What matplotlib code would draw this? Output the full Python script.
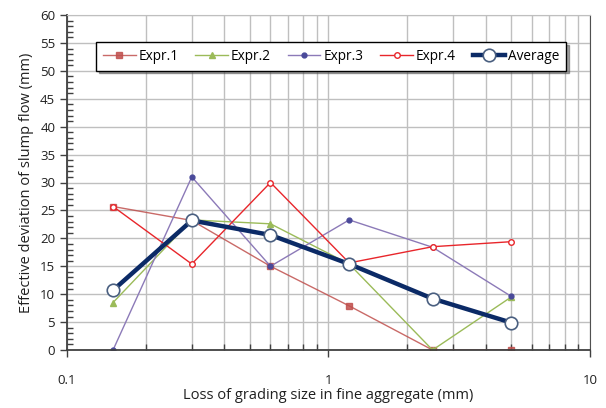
import matplotlib
matplotlib.use('Agg')
import matplotlib.pyplot as plt
from matplotlib.ticker import LogLocator, MultipleLocator, FixedFormatter, FixedLocator

plt.rcParams['font.family'] = ['Open Sans', 'DejaVu Sans']

sizes = [0.15, 0.3, 0.6, 1.2, 2.5, 5]
expr1 = [25.7, 23.2, 15.0, 7.9, 0, 0]
expr2 = [8.5, 23.3, 22.6, 15.4, 0, 9.5]
expr3 = [0, 31.0, 15.0, 23.3, 18.4, 9.6]
expr4 = [25.7, 15.4, 30.0, 15.6, 18.5, 19.4]
average = [10.7, 23.2, 20.6, 15.4, 9.2, 4.9]

x_ticks = [0.1, 1, 10]
x_ticklabels = ['0.1', '1', '10']

fig = plt.figure(figsize=(6.06, 4.08), dpi=100)
ax = fig.add_axes([67 / 606, 1 - 350 / 408, 523 / 606, 335 / 408])

grid_col = '#BFBFBF'
ax.plot(sizes, expr1, color='#C0504D', lw=1.0, marker='s', ms=4,
        mfc='#C0504D', mec='#C0504D', label='Expr.1', alpha=0.85)
ax.plot(sizes, expr2, color='#9BBB59', lw=1.0, marker='^', ms=4,
        mfc='#9BBB59', mec='#9BBB59', label='Expr.2')
ax.plot(sizes, expr3, color='#8C7AB8', lw=1.0, marker='o', ms=3.5,
        mfc='#4A4A9A', mec='#4A4A9A', label='Expr.3')
ax.plot(sizes, expr4, color='#E8262B', lw=1.0, marker='o', ms=4,
        mfc='white', mec='#E8262B', mew=1.0, label='Expr.4')
ax.plot(sizes, average, color='#0B2A66', lw=3.2, marker='o', ms=9,
        mfc='white', mec='#4A5F80', mew=1.2, label='Average', zorder=5)

ax.set_xscale('log')
ax.set_xlim(0.1, 10)
ax.set_ylim(0, 60)

ax.xaxis.set_major_locator(FixedLocator(x_ticks))
ax.xaxis.set_major_formatter(FixedFormatter(x_ticklabels))
ax.xaxis.set_minor_locator(LogLocator(base=10, subs=range(2, 10)))
ax.xaxis.set_minor_formatter(FixedFormatter([]))
ax.yaxis.set_major_locator(MultipleLocator(5))
ax.yaxis.set_minor_locator(MultipleLocator(1))

ax.grid(True, which='major', axis='y', color=grid_col, lw=1)
ax.grid(True, which='both', axis='x', color=grid_col, lw=1)
ax.set_axisbelow(True)

ax.tick_params(which='major', direction='out', length=5, width=1,
               color='#404040', labelsize=9.5, labelcolor='#202020')
ax.tick_params(axis='x', which='major', pad=12)
ax.tick_params(which='minor', direction='in', length=4, width=1, color='#404040')

for side in ['left', 'bottom']:
    ax.spines[side].set_color('#404040')
    ax.spines[side].set_linewidth(1.3)
ax.spines['top'].set_color(grid_col)
ax.spines['right'].set_color('#505050')

ax.set_xlabel('Loss of grading size in fine aggregate (mm)', fontsize=10.5,
              color='#202020', labelpad=1)
ax.set_ylabel('Effective deviation of slump flow (mm)', fontsize=10.5,
              color='#202020', labelpad=4)

leg = ax.legend(loc='upper center', bbox_to_anchor=(0.505, 0.94), ncol=5,
                fontsize=9.8, frameon=True, fancybox=False, shadow=True,
                handlelength=2.4, handletextpad=0.2, columnspacing=1.25,
                borderpad=0.5)
leg.get_frame().set_edgecolor('black')
leg.get_frame().set_linewidth(1.0)

fig.savefig('out.png', dpi=100)
